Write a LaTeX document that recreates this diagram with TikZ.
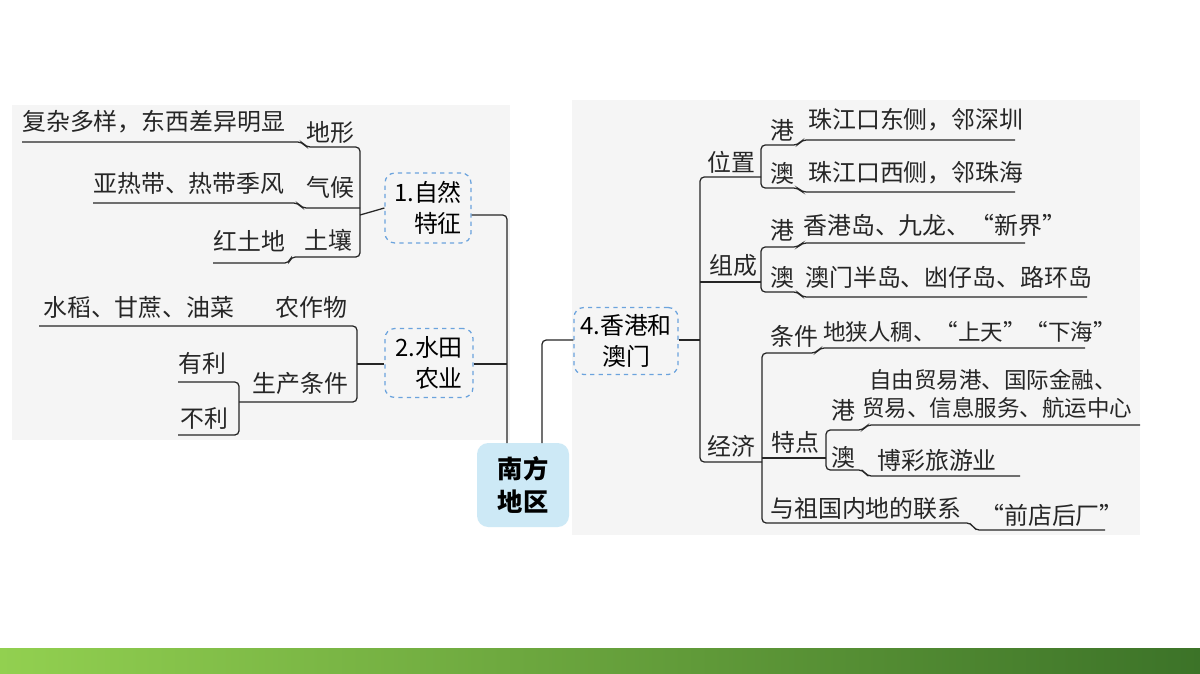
\documentclass[tikz,border=0pt]{standalone}
\usepackage{fontspec}
\setmainfont{Noto Sans CJK SC}
\begin{document}
\begin{tikzpicture}[x=0.025cm,y=-0.025cm,
  t/.style={inner sep=0pt,font=\fontsize{17}{21}\selectfont,text=black!85},
  tw/.style={t,anchor=west},
  ln/.style={draw=black!85,line width=0.9pt,rounded corners=3pt},
  dbox/.style={draw=cyan!60!blue!60,dashed,line width=0.9pt,rounded corners=7pt,inner sep=0pt,font=\fontsize{17}{22}\selectfont,align=center}]
\useasboundingbox (0,0) rectangle (1200,673);
\fill[white] (0,0) rectangle (1200,673);
\fill[black!4] (12,105) rectangle (510,440);
\fill[black!4] (572,100) rectangle (1140,535);
\shade[left color={rgb,255:red,146;green,208;blue,80}, right color={rgb,255:red,60;green,115;blue,40}] (0,648) rectangle (1200,673);
% central
\node[fill={rgb,255:red,205;green,233;blue,246},rounded corners=8pt,minimum width=92*0.025cm,minimum height=84*0.025cm,align=center,font=\fontsize{18}{24}\selectfont\bfseries] (c) at (523,485) {南方\\地区};
\node[dbox,minimum width=86*0.025cm,minimum height=70*0.025cm] (b1) at (428,208) {1.自然\\\phantom{1.}特征};
\node[dbox,minimum width=88*0.025cm,minimum height=69*0.025cm] (b2) at (429,363) {2.水田\\\phantom{2.}农业};
\node[dbox,minimum width=104*0.025cm,minimum height=67*0.025cm] (b4) at (626,341) {4.香港和\\澳门};
% left texts
\node[tw] (a1) at (22,122) {复杂多样，东西差异明显};
\node[t] (l1) at (330,132) {地形};
\node[tw] (a2) at (93,183) {亚热带、热带季风};
\node[t] (l2) at (330,187) {气候};
\node[tw] (a3) at (213,241) {红土地};
\node[t] (l3) at (328,240) {土壤};
\node[tw] (a4) at (43,307) {水稻、甘蔗、油菜};
\node[tw] (l4) at (275,307) {农作物};
\node[tw] (l5) at (252,383) {生产条件};
\node[tw] (a5) at (178,363) {有利};
\node[tw] (a6) at (180,418) {不利};
% left lines
\draw[ln] (22,142) -- (302,142) -- (306,147) -- (360,147) -- (360,257) -- (291,257) -- (289,263) -- (213,263);
\draw[ln] (93,203) -- (298,203) -- (302,208) -- (360,208);
\draw[ln] (360,215) -- (b1.west);
\draw[ln] (b1.east |- 0,215) -- (507,215) -- (507,443);
\draw[ln] (39,326) -- (357,326) -- (357,402) -- (239,402);
\draw[ln] (357,364) -- (b2.west |- 0,364);
\draw[ln] (b2.east |- 0,364) -- (507,364);
\draw[ln] (178,382) -- (239,382) -- (239,435) -- (178,435);
% right connection
\draw[ln] (542,443) -- (542,340) -- (b4.west |- 0,340);
\draw[ln] (b4.east |- 0,340) -- (700,340);
\draw[ln] (761,177) -- (700,177) -- (700,462) -- (762,462);
\draw[ln] (700,282) -- (761,282);
% right texts
\node[t] (r1) at (731,162) {位置};
\node[t] (r2) at (733,265) {组成};
\node[t] (r3) at (731,446) {经济};
\node[t] (h1) at (782,130) {港};
\node[tw] (h1t) at (808,120) {珠江口东侧，邻深圳};
\node[t] (m1) at (782,173) {澳};
\node[tw] (m1t) at (808,173) {珠江口西侧，邻珠海};
\node[t] (h2) at (782,230) {港};
\node[tw] (h2t) at (803,225) {香港岛、九龙、“新界”};
\node[t] (m2) at (782,277) {澳};
\node[tw] (m2t) at (805,277) {澳门半岛、凼仔岛、路环岛};
\node[t] (k1) at (794,336) {条件};
\node[tw,font=\fontsize{16}{20}\selectfont] (k1t) at (823,332) {地狭人稠、“上天”“下海”};
\node[t] (k2) at (795,442) {特点};
\node[t] (h3) at (843,410) {港};
\node[tw,align=left,font=\fontsize{16}{20}\selectfont] (h3t) at (862,394) {\hspace*{0.3em}自由贸易港、国际金融、\\贸易、信息服务、航运中心};
\node[t] (m3) at (843,457) {澳};
\node[tw] (m3t) at (877,460) {博彩旅游业};
\node[tw] (k3) at (770,508) {与祖国内地的联系};
\node[tw] (k3t) at (980,515) {“前店后厂”};
% right lines
\draw[ln] (1015,140) -- (802,140) -- (798,145) -- (761,145) -- (761,188) -- (798,188) -- (802,192) -- (1015,192);
\draw[ln] (1025,243) -- (802,243) -- (798,247) -- (761,247) -- (761,292) -- (798,292) -- (802,297) -- (1087,297);
\draw[ln] (1085,348) -- (820,348) -- (816,353) -- (762,353) -- (762,523) -- (971,523) -- (975,530) -- (1105,530);
\draw[ln] (762,458) -- (826,458);
\draw[ln] (1140,425) -- (867,425) -- (863,430) -- (826,430) -- (826,470) -- (863,470) -- (867,476) -- (1020,476);
\end{tikzpicture}
\end{document}
